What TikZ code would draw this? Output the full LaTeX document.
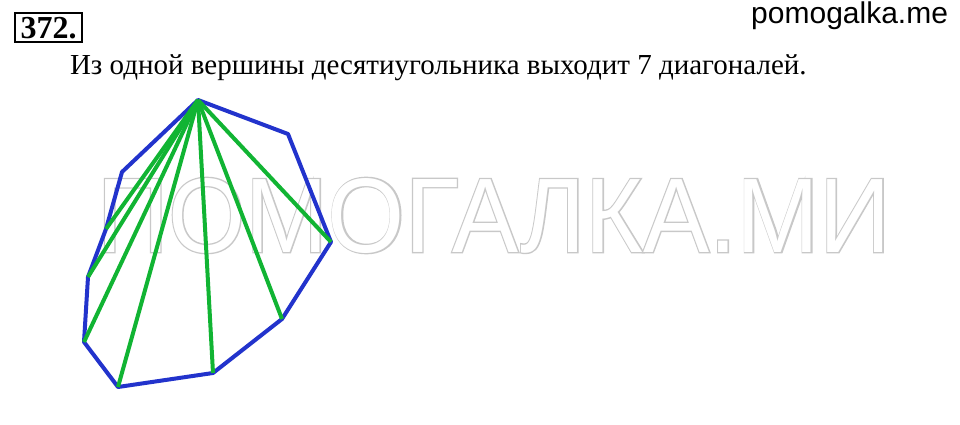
\documentclass[tikz,border=0pt]{standalone}
\usepackage{fontspec}
\setmainfont{Liberation Serif}
\newfontfamily\wmfont{Liberation Sans}
\newfontfamily\wmbold[FakeBold=2.5]{Liberation Sans}
\newfontfamily\sitefont{Liberation Sans}
\definecolor{polyblue}{RGB}{34,51,204}
\definecolor{diaggreen}{RGB}{17,180,51}
\definecolor{wmgray}{RGB}{200,200,200}
\begin{document}
\begin{tikzpicture}[x=1pt,y=-1pt,
  polyedge/.style={polyblue,line width=4pt,line join=round},
  diag/.style={diaggreen,line width=4pt},
  plain/.style={inner sep=0pt,outer sep=0pt}]
\useasboundingbox[fill=white] (0,0) rectangle (960,425);
% watermark
\node[plain,anchor=base west,text=wmgray,xscale=0.935] (wmo) at (97,252) {\fontsize{106}{106}\wmbold ПОМОГАЛКА.МИ};
\node[plain,anchor=base west,text=white,xscale=0.935] (wmi) at (97,252) {\fontsize{106}{106}\wmfont ПОМОГАЛКА.МИ};
% header
\node[draw,line width=2pt,minimum width=67pt,minimum height=29pt,inner sep=0pt] (num) at (48.5,28) {\fontsize{32}{32}\selectfont\bfseries 372.};
\node[plain,anchor=base east] (site) at (948,24) {\fontsize{30}{30}\sitefont pomogalka.me};
\node[plain,anchor=base west] (task) at (70,75) {\fontsize{29}{29}\selectfont Из одной вершины десятиугольника выходит 7 диагоналей.};
% decagon
\coordinate (A) at (198,100);
\coordinate (B) at (288,134);
\coordinate (C) at (331,242);
\coordinate (D) at (282,319);
\coordinate (E) at (213,373);
\coordinate (F) at (118,387);
\coordinate (G) at (84,342);
\coordinate (H) at (88,277);
\coordinate (I) at (106,229);
\coordinate (J) at (122,172);
\draw[polyedge] (A) -- (B) -- (C) -- (D) -- (E) -- (F) -- (G) -- (H) -- (I) -- (J) -- cycle;
\foreach \v in {C,D,E,F,G,H,I} \draw[diag] (A) -- (\v);
\end{tikzpicture}
\end{document}
